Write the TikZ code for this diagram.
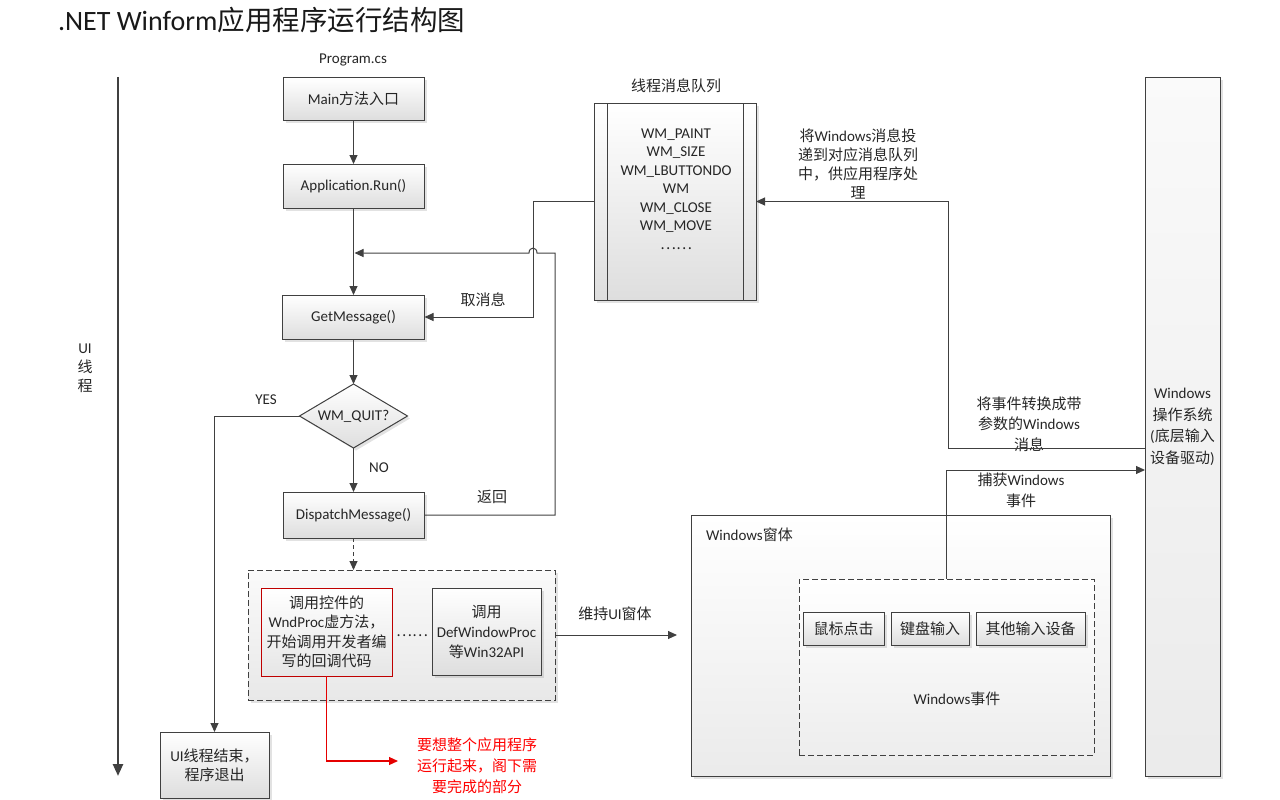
\documentclass[tikz,border=0pt]{standalone}
\usepackage{fontspec}
\setmainfont{Carlito}
\newfontfamily\cj{Noto Sans CJK SC}
\usetikzlibrary{arrows.meta,shapes.geometric,shadows,calc}
\begin{document}
\begin{tikzpicture}[x=1pt,y=-1pt,
  every node/.style={font=\fontsize{15}{19}\selectfont, inner sep=0pt, outer sep=0pt, text=black!85},
  shd/.style={drop shadow={shadow xshift=2.5pt, shadow yshift=-2.5pt, opacity=0.25, fill=black!45}},
  box/.style={draw=black!75, line width=1pt, top color=white, bottom color=black!13, align=center, shd},
  redbox/.style={draw=red!75!black, line width=1pt, top color=white, bottom color=black!10, align=center, font=\fontsize{15}{19.5}\selectfont},
  dia/.style={draw=black!75, line width=1pt, diamond, aspect=1.7, top color=white, bottom color=black!13, shd},
  grpbox/.style={draw=black!75, line width=1pt, dash pattern=on 6pt off 3pt, top color=black!2, bottom color=black!9, shd},
  panel/.style={draw=black!75, line width=1pt, top color=white, bottom color=black!8, shd},
  dbox/.style={draw=black!75, line width=1pt, dash pattern=on 6pt off 3pt, top color=white, bottom color=black!7},
  arr/.style={draw=black!75, line width=1pt, -{Triangle[length=9pt,width=8pt]}},
  redarr/.style={draw=red!90!black, line width=1.2pt, -{Triangle[length=9pt,width=8pt]}},
  lbl/.style={align=center}
]
\useasboundingbox (0,0) rectangle (1280,800);

% title
\node[anchor=base west, font=\fontsize{28}{30}\selectfont, text=black!90] (title) at (58,31) {.NET Winform{\fontsize{27.5}{30}\selectfont\cj 应用程序运行结构图}};

% left axis
\coordinate (axtop) at (118,77);
\coordinate (axbot) at (118,776);
\draw[draw=black!75, line width=2.5pt, -{Triangle[length=12pt,width=10pt]}] (axtop) -- (axbot);
\node[lbl] (uilbl) at (85,368) {UI\\{\cj 线}\\{\cj 程}};

% main flow
\node (prog) at (353,60) {Program.cs};
\node[box, minimum width=141pt, minimum height=42pt] (main) at (353.5,99) {Main{\cj 方法入口}};
\node[box, minimum width=141pt, minimum height=44pt] (app) at (353.5,186) {Application.Run()};
\node[box, minimum width=142pt, minimum height=44pt] (getm) at (353.5,317) {GetMessage()};
\node[dia, minimum width=108pt, minimum height=64pt] (quit) at (353.5,416) {WM\_QUIT?};
\node[box, minimum width=141pt, minimum height=46pt] (disp) at (353.5,515) {DispatchMessage()};

% dashed group
\node[grpbox, minimum width=307pt, minimum height=130pt] (grp) at (401.5,635) {};
\node[redbox, minimum width=131pt, minimum height=88pt] (wndp) at (326.5,632) {{\cj 调用控件的}\\WndProc{\cj 虚方法，}\\{\cj 开始调用开发者编}\\{\cj 写的回调代码}};
\node (dots) at (412,636) {\cj ……};
\node[box, minimum width=109pt, minimum height=87pt, font=\fontsize{15}{20}\selectfont] (defw) at (486.5,631.5) {{\cj 调用}\\DefWindowProc\\{\cj 等}Win32API};

% end box
\node[box, minimum width=109pt, minimum height=66pt, font=\fontsize{15}{19}\selectfont] (uiend) at (214.5,765) {UI{\cj 线程结束，}\\{\cj 程序退出}};

% queue
\node[box, minimum width=162pt, minimum height=197pt] (queue) at (675,201.5) {};
\draw[draw=black!75, line width=1pt] ([xshift=13pt]queue.north west) -- ([xshift=13pt]queue.south west);
\draw[draw=black!75, line width=1pt] ([xshift=-13pt]queue.north east) -- ([xshift=-13pt]queue.south east);
\node (qtitle) at (676,86) {\cj 线程消息队列};
\node[lbl, font=\fontsize{15}{18.5}\selectfont] (qtext) at (676,189) {WM\_PAINT\\WM\_SIZE\\WM\_LBUTTONDO\\WM\\WM\_CLOSE\\WM\_MOVE\\{\cj ……}};

% OS
\node[box, minimum width=75pt, minimum height=698pt, top color=black!2, bottom color=black!8, font=\fontsize{15}{21.5}\selectfont] (os) at (1182.5,427) {Windows\\{\cj 操作系统}\\({\cj 底层输入}\\{\cj 设备驱动})};

% windows form
\node[panel, minimum width=419pt, minimum height=261pt] (winform) at (900.5,645.5) {};
\node[anchor=west] (winlbl) at (706,535) {Windows{\cj 窗体}};
\node[dbox, minimum width=295pt, minimum height=176pt] (evts) at (946.5,667) {};
\node (evlbl) at (957,699) {Windows{\cj 事件}};
\node[box, minimum width=81pt, minimum height=33pt] (mouse) at (843.5,628.5) {\cj 鼠标点击};
\node[box, minimum width=78pt, minimum height=33pt] (kbd) at (930,628.5) {\cj 键盘输入};
\node[box, minimum width=109pt, minimum height=33pt] (other) at (1030.5,628.5) {\cj 其他输入设备};

% labels
\node[lbl] (lblq) at (858,163.5) {{\cj 将}Windows{\cj 消息投}\\{\cj 递到对应消息队列}\\{\cj 中，供应用程序处}\\{\cj 理}};
\node[lbl, font=\fontsize{15}{20.5}\selectfont] (lblev) at (1029,424) {{\cj 将事件转换成带}\\{\cj 参数的}Windows\\{\cj 消息}};
\node[lbl, font=\fontsize{15}{21}\selectfont] (lblcap) at (1021,490) {{\cj 捕获}Windows\\{\cj 事件}};
\node (lblkeep) at (615,614) {{\cj 维持}UI{\cj 窗体}};
\node (lblget) at (483,300) {\cj 取消息};
\node (lblret) at (492,497) {\cj 返回};
\node (lblyes) at (266,400) {YES};
\node (lblno) at (379,468) {NO};
\node[lbl, text=red, font=\fontsize{15}{21}\selectfont] (redlbl) at (477,766) {{\cj 要想整个应用程序}\\{\cj 运行起来，阁下需}\\{\cj 要完成的部分}};

% connectors
\coordinate (jn) at (354.5,253);
\coordinate (k1) at (533,317);
\coordinate (r1) at (555,515);
\coordinate (r2) at (555,253);
\coordinate (redtip) at (398,761);
\coordinate (wfin) at (677,635);
\coordinate (osin) at (1145,448);
\coordinate (bend1) at (948,448);
\coordinate (osout) at (1145,470);
\coordinate (grpin) at (353.5,570);

\draw[arr] (main.south) -- (app.north);
\draw[arr] (app.south) -- (getm.north);
\draw[arr] (getm.south) -- (quit.north);
\draw[arr] (quit.south) -- (disp.north);
\draw[arr] (quit.west) -| (uiend.north);
\draw[arr, dash pattern=on 4pt off 3pt] (disp.south) -- (grpin);
\draw[arr] (queue.west) -| (k1) -- (getm.east);
\draw[arr] (disp.east) -- (r1) -- (r2) -- (537,253) .. controls (537,246.5) and (529,246.5) .. (529,253) -- (jn);
\draw[redarr] (wndp.south) |- (redtip);
\draw[arr] (grp.east) -- (wfin);
\draw[arr] (osin) -- (bend1) |- (queue.east);
\draw[arr] (evts.north) |- (osout);
\end{tikzpicture}
\end{document}
